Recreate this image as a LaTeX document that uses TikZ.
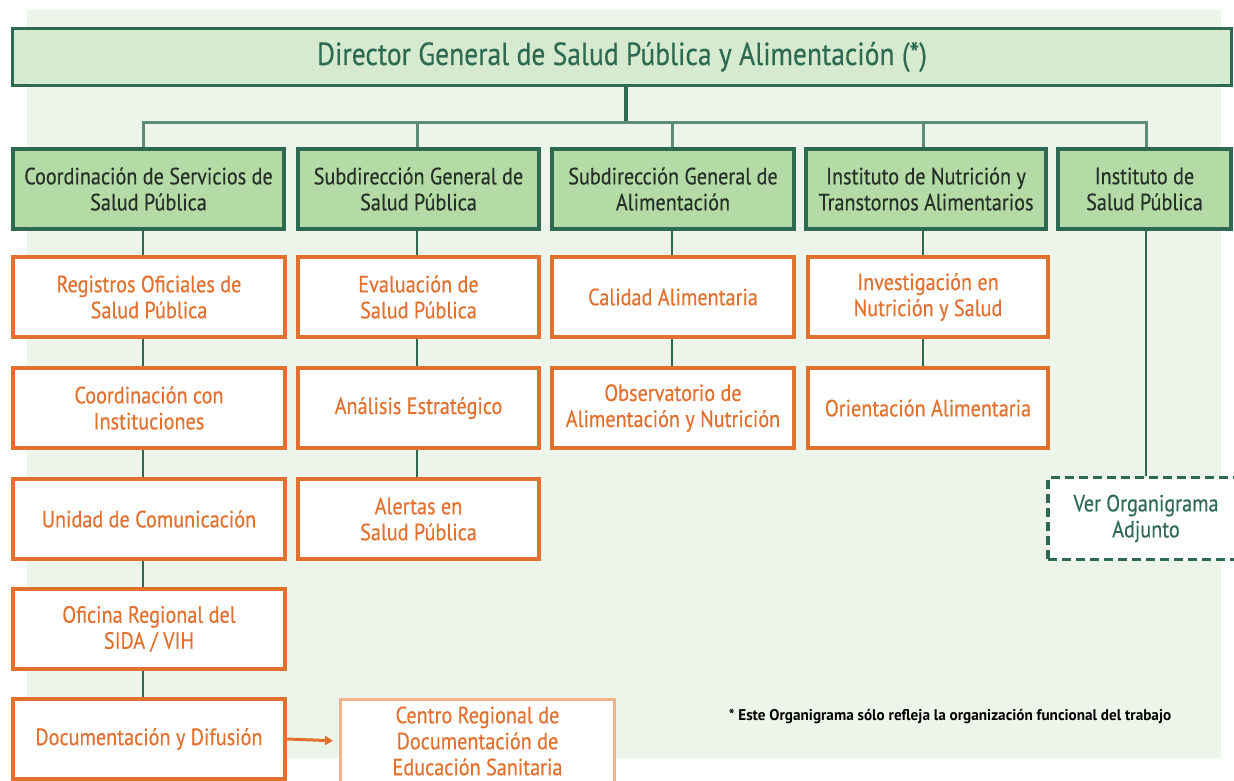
\documentclass[tikz,border=0pt]{standalone}
\usepackage{fontspec}
\setmainfont{PT Sans}[FakeStretch=0.86, FakeBold=0.35]
\newfontfamily\notefont{PT Sans}[FakeStretch=0.98]
\usetikzlibrary{arrows.meta}
\definecolor{bgg}{HTML}{EDF5EA}
\definecolor{dg}{HTML}{2E6A52}
\definecolor{lg}{HTML}{5E8C78}
\definecolor{topf}{HTML}{D6EAD0}
\definecolor{boxf}{HTML}{B4DBA5}
\definecolor{org}{HTML}{E2702E}
\definecolor{lorg}{HTML}{F0B48A}
\definecolor{txt}{HTML}{262F28}
\tikzset{
  topbox/.style={draw=dg, line width=3pt, fill=topf, minimum width=1219pt, minimum height=57pt, inner sep=0pt, font=\fontsize{32}{34}\selectfont, text=dg},
  gbox/.style={draw=dg, line width=4pt, fill=boxf, minimum height=80pt, inner sep=0pt, align=center, font=\fontsize{23.5}{26}\selectfont, text=txt},
  obox/.style={draw=org, line width=4.5pt, fill=white, minimum height=80pt, inner sep=0pt, align=center, font=\fontsize{23.5}{26}\selectfont, text=org},
  lbox/.style={draw=lorg, line width=3pt, fill=white, minimum height=84pt, inner sep=0pt, align=center, font=\fontsize{23.5}{26}\selectfont, text=org},
  dbox/.style={draw=dg, line width=3.5pt, dash pattern=on 9pt off 5pt, fill=white, minimum height=82pt, inner sep=0pt, align=center, font=\fontsize{23.5}{26}\selectfont, text=dg},
  conn/.style={draw=dg, line width=2.5pt},
  bus/.style={draw=lg, line width=3pt},
}
\begin{document}
\begin{tikzpicture}[x=1pt,y=-1pt]
\useasboundingbox (0,0) rectangle (1234,780);
\fill[white] (0,0) rectangle (1234,780);
\fill[bgg] (27,10) rectangle (1221,758);

% top
\node[topbox] (top) at (622,57) {Director General de Salud Pública y Alimentación (*)};

% green row
\node[gbox, minimum width=271pt] (g1) at (148.5,189) {Coordinación de Servicios de\\Salud Pública};
\node[gbox, minimum width=241pt] (g2) at (418.5,189) {Subdirección General de\\Salud Pública};
\node[gbox, minimum width=242pt] (g3) at (673,189) {Subdirección General de\\Alimentación};
\node[gbox, minimum width=240pt] (g4) at (926,189) {Instituto de Nutrición y\\Transtornos Alimentarios};
\node[gbox, minimum width=173pt] (g5) at (1144.5,189) {Instituto de\\Salud Pública};

% orange col 1
\node[obox, minimum width=272pt] (a1) at (149,297) {Registros Oficiales de\\Salud Pública};
\node[obox, minimum width=272pt] (a2) at (149,408) {Coordinación con\\Instituciones};
\node[obox, minimum width=272pt] (a3) at (149,519) {Unidad de Comunicación};
\node[obox, minimum width=272pt] (a4) at (149,629) {Oficina Regional del\\SIDA / VIH};
\node[obox, minimum width=272pt] (a5) at (149,739) {Documentación y Difusión};
% col 2
\node[obox, minimum width=241pt] (b1) at (418.5,297) {Evaluación de\\Salud Pública};
\node[obox, minimum width=241pt] (b2) at (418.5,408) {Análisis Estratégico};
\node[obox, minimum width=241pt] (b3) at (418.5,519) {Alertas en\\Salud Pública};
% col 3
\node[obox, minimum width=242pt] (c1) at (673,297) {Calidad Alimentaria};
\node[obox, minimum width=242pt] (c2) at (673,408) {Observatorio de\\Alimentación y Nutrición};
% col 4
\node[obox, minimum width=240pt] (d1) at (928,297) {Investigación en\\Nutrición y Salud};
\node[obox, minimum width=240pt] (d2) at (928,408) {Orientación Alimentaria};

% extra boxes
\node[lbox, minimum width=274pt] (cr) at (477.5,741) {Centro Regional de\\Documentación de\\Educación Sanitaria};
\node[dbox, minimum width=196pt] (ver) at (1146,518.5) {Ver Organigrama\\Adjunto};

% footnote
\node[font=\notefont\bfseries\fontsize{15.5}{17}\selectfont, text=black, inner sep=0pt] (fn) at (950,716) {* Este Organigrama sólo refleja la organización funcional del trabajo};

% coordinates for connector columns
\coordinate (xa) at (143,0);
\coordinate (xb) at (417,0);
\coordinate (xc) at (672,0);
\coordinate (xd) at (923,0);
\coordinate (xe) at (1146,0);
\coordinate (xt) at (626,0);
\coordinate (busl) at (143,122);
\coordinate (busr) at (1146,122);

% top connectors
\draw[conn, line width=4pt] (top.south -| xt) -- (busl -| xt);
\draw[bus] (g1.north -| xa) -- (busl) -- (busr) -- (g5.north -| xe);
\draw[bus] (busl -| xb) -- (g2.north -| xb);
\draw[bus] (busl -| xc) -- (g3.north -| xc);
\draw[bus] (busl -| xd) -- (g4.north -| xd);

% vertical chains
\draw[conn] (g1.south -| xa) -- (a1.north -| xa);
\draw[conn] (a1.south -| xa) -- (a2.north -| xa);
\draw[conn] (a2.south -| xa) -- (a3.north -| xa);
\draw[conn] (a3.south -| xa) -- (a4.north -| xa);
\draw[conn] (a4.south -| xa) -- (a5.north -| xa);
\draw[conn] (g2.south -| xb) -- (b1.north -| xb);
\draw[conn] (b1.south -| xb) -- (b2.north -| xb);
\draw[conn] (b2.south -| xb) -- (b3.north -| xb);
\draw[conn] (g3.south -| xc) -- (c1.north -| xc);
\draw[conn] (c1.south -| xc) -- (c2.north -| xc);
\draw[conn] (g4.south -| xd) -- (d1.north -| xd);
\draw[conn] (d1.south -| xd) -- (d2.north -| xd);
\draw[conn] (g5.south -| xe) -- (ver.north -| xe);

% arrow
\draw[draw=org, line width=3pt, -{Triangle[length=8pt,width=9pt]}, shorten >=6pt] (a5.east) -- (cr.west);
\end{tikzpicture}
\end{document}
